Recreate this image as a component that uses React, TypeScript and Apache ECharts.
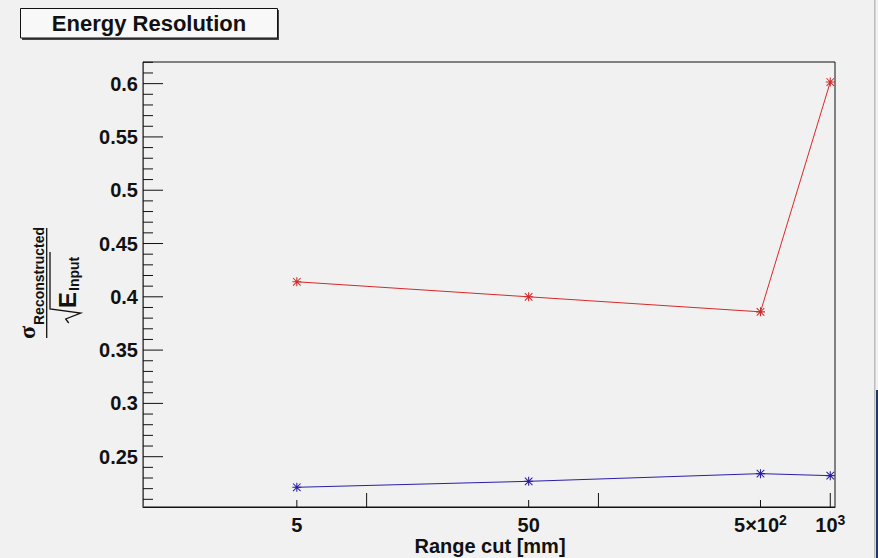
import React, { useEffect, useRef } from "react";
import * as echarts from "echarts";

// ---- data ----
const rangeCuts = [5, 50, 500, 1000];
const redValues = [0.4141, 0.4, 0.3859, 0.6015];
const blueValues = [0.2213, 0.2269, 0.2341, 0.2322];

// ---- axes ----
const xMin = 1.085;
const xMax = 1048;
const yMin = 0.2028;
const yMax = 0.6203;

const xLongTicks = [10, 100, 1000];
const xShortTicks = [5, 50, 500];
const xLabelValues = [5, 50, 500, 1000];
const xLabelTexts = ["5", "50", "5×10{sup|2}", "10{sup|3}"];

const yMajorTicks = [0.25, 0.3, 0.35, 0.4, 0.45, 0.5, 0.55, 0.6];
const yLabelTexts = ["0.25", "0.3", "0.35", "0.4", "0.45", "0.5", "0.55", "0.6"];
const yMinorTicks = [
  0.21, 0.22, 0.23, 0.24, 0.26, 0.27, 0.28, 0.29, 0.31, 0.32, 0.33, 0.34,
  0.36, 0.37, 0.38, 0.39, 0.41, 0.42, 0.43, 0.44, 0.46, 0.47, 0.48, 0.49,
  0.51, 0.52, 0.53, 0.54, 0.56, 0.57, 0.58, 0.59, 0.61, 0.62,
];

const SANS = '"Liberation Sans", Arial, Helvetica, sans-serif';
const BG = "#f1f1f1";
const INK = "#111111";
const RED = "#d42a2a";
const BLUE = "#2b1ea8";
const STAR =
  "path://M4.4 0H5.6V10H4.4Z M0 4.4H10V5.6H0Z M1.2 0.4L9.6 8.8L8.8 9.6L0.4 1.2Z M8.8 0.4L9.6 1.2L1.2 9.6L0.4 8.8Z";

export default function App() {
  const ref = useRef<HTMLDivElement>(null);

  useEffect(() => {
    if (!ref.current) return;
    const chart = echarts.init(ref.current, undefined, { renderer: "svg" });

    const xTick = (len: number) => (params: any, api: any) => {
      const p = api.coord([api.value(0), yMin]);
      return {
        type: "line",
        shape: { x1: p[0], y1: p[1], x2: p[0], y2: p[1] - len },
        style: { stroke: INK, lineWidth: 1 },
      };
    };
    const yTick = (len: number) => (params: any, api: any) => {
      const p = api.coord([xMin, api.value(1)]);
      return {
        type: "line",
        shape: { x1: p[0], y1: p[1], x2: p[0] + len, y2: p[1] },
        style: { stroke: INK, lineWidth: 1 },
      };
    };

    const option: any = {
      animation: false,
      backgroundColor: BG,
      grid: { left: 143, right: 43, top: 62, bottom: 51, show: true, borderColor: INK, borderWidth: 1, backgroundColor: "transparent" },
      xAxis: {
        type: "log",
        logBase: 10,
        min: xMin,
        max: xMax,
        axisLine: { show: true, lineStyle: { color: INK, width: 1 } },
        axisTick: { show: false },
        axisLabel: { show: false },
        splitLine: { show: false },
        minorTick: { show: false },
      },
      yAxis: {
        type: "value",
        min: yMin,
        max: yMax,
        axisLine: { show: true, lineStyle: { color: "#555", width: 1 } },
        axisTick: { show: false },
        axisLabel: { show: false },
        splitLine: { show: false },
      },
      series: [
        {
          type: "line",
          data: rangeCuts.map((x, i) => [x, redValues[i]]),
          lineStyle: { color: RED, width: 1 },
          itemStyle: { color: RED },
          symbol: STAR,
          symbolSize: 9,
        },
        {
          type: "line",
          data: rangeCuts.map((x, i) => [x, blueValues[i]]),
          lineStyle: { color: BLUE, width: 1 },
          itemStyle: { color: BLUE },
          symbol: STAR,
          symbolSize: 9,
        },
        {
          type: "custom",
          silent: true,
          clip: false,
          data: xLongTicks.map((v) => [v, yMin]),
          renderItem: xTick(14),
        },
        {
          type: "custom",
          silent: true,
          clip: false,
          data: xShortTicks.map((v) => [v, yMin]),
          renderItem: xTick(7),
        },
        {
          type: "custom",
          silent: true,
          clip: false,
          data: yMajorTicks.map((v) => [xMin, v]),
          renderItem: yTick(20),
        },
        {
          type: "custom",
          silent: true,
          clip: false,
          data: yMinorTicks.map((v) => [xMin, v]),
          renderItem: yTick(10),
        },
        {
          type: "custom",
          silent: true,
          clip: false,
          data: xLabelValues.map((v) => [v, yMin]),
          renderItem: (params: any, api: any) => {
            const p = api.coord([api.value(0), yMin]);
            return {
              type: "text",
              x: p[0],
              y: p[1] + 18,
              style: {
                text: xLabelTexts[params.dataIndex],
                fill: INK,
                font: `bold 20px ${SANS}`,
                align: "center",
                verticalAlign: "middle",
                rich: {
                  sup: { fontSize: 14, fontWeight: "bold", fontFamily: SANS, fill: INK, verticalAlign: "top", padding: [0, 0, 10, 0] },
                },
              },
            };
          },
        },
        {
          type: "custom",
          silent: true,
          clip: false,
          data: yMajorTicks.map((v) => [xMin, v]),
          renderItem: (params: any, api: any) => {
            const p = api.coord([xMin, api.value(1)]);
            return {
              type: "text",
              x: p[0] - 5,
              y: p[1],
              style: {
                text: yLabelTexts[params.dataIndex],
                fill: INK,
                font: `bold 20px ${SANS}`,
                align: "right",
                verticalAlign: "middle",
              },
            };
          },
        },
      ],
      graphic: [
        { type: "rect", shape: { x: 22, y: 10, width: 257, height: 30 }, style: { fill: "#444" } },
        { type: "rect", shape: { x: 20.5, y: 8.5, width: 257, height: 29.5 }, style: { fill: "#f8f8f8", stroke: INK, lineWidth: 1 } },
        {
          type: "text",
          x: 149,
          y: 23.5,
          style: { text: "Energy Resolution", font: `bold 22px ${SANS}`, fill: INK, align: "center", verticalAlign: "middle" },
        },
        {
          type: "text",
          x: 490,
          y: 546,
          style: { text: "Range cut [mm]", font: `bold 20px ${SANS}`, fill: INK, align: "center", verticalAlign: "middle" },
        },
        {
          type: "group",
          x: 46.7,
          y: 283,
          rotation: Math.PI / 2,
          children: [
            { type: "line", shape: { x1: -55, y1: 0, x2: 55, y2: 0 }, style: { stroke: INK, lineWidth: 1.3 } },
            { type: "text", x: -56, y: -20, style: { text: "σ", font: 'bold 24px "Liberation Serif", serif', fill: INK, align: "left", verticalAlign: "middle" } },
            { type: "text", x: -42, y: -8, style: { text: "Reconstructed", font: `bold 14px ${SANS}`, fill: INK, align: "left", verticalAlign: "middle" } },
            {
              type: "polyline",
              shape: { points: [[-40, 22], [-36, 19], [-30, 34], [-26, 3.3], [31, 3.3]] },
              style: { stroke: INK, lineWidth: 1.3, fill: null },
            },
            { type: "text", x: -25, y: 21, style: { text: "E", font: `bold 24px ${SANS}`, fill: INK, align: "left", verticalAlign: "middle" } },
            { type: "text", x: -8, y: 27, style: { text: "Input", font: `bold 14px ${SANS}`, fill: INK, align: "left", verticalAlign: "middle" } },
          ],
        },
        { type: "rect", shape: { x: 874, y: 0, width: 1.5, height: 558 }, style: { fill: "#bdbdbd" } },
        { type: "rect", shape: { x: 876, y: 390, width: 2, height: 168 }, style: { fill: "#1d3a6b" } },
      ],
    };

    chart.setOption(option);
    return () => chart.dispose();
  }, []);

  return (
    <div
      ref={ref}
      style={{ position: "fixed", left: 0, top: 0, width: 878, height: 558, background: BG }}
    />
  );
}
